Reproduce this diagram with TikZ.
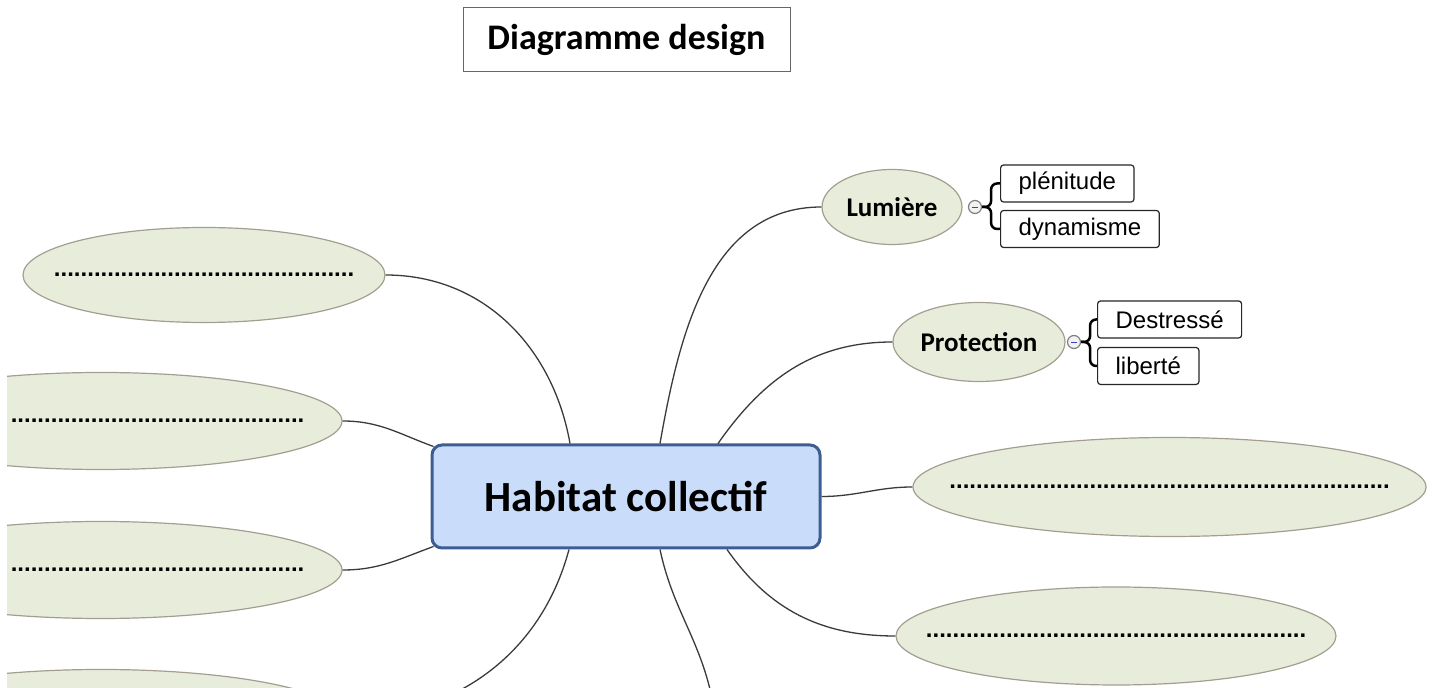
\documentclass[tikz,border=0pt]{standalone}
\usepackage{fontspec}
\setmainfont{Carlito}
\newfontfamily\leaffont{Liberation Sans}
\usepackage{tikz}
\usetikzlibrary{shapes.geometric}
\definecolor{ideafill}{HTML}{E8EDDB}
\definecolor{ideadraw}{HTML}{A39E90}
\definecolor{habfill}{HTML}{C9DCFA}
\definecolor{habdraw}{HTML}{3E5D93}
\definecolor{linkgray}{HTML}{3A3A3A}
% ligne de points, sans largeur (l'ellipse garde sa taille)
\newcommand{\DotRow}[2][0pt]{\makebox[0pt]{\hspace*{#1}\raisebox{-4pt}{\foreach \n in {1,...,#2}{.}}}}

\begin{document}
\begin{tikzpicture}[x=1pt,y=1pt]
		\tikzstyle{HabStyle}=[rectangle,rounded corners=10pt,draw=habdraw,line width=3pt,fill=habfill,
			minimum width=388,minimum height=103,font=\bfseries\fontsize{43}{48}\selectfont]
		\tikzstyle{IdeaStyle}=[ellipse,draw=ideadraw,line width=1.2pt,fill=ideafill,inner sep=0pt,
			font=\leaffont\bfseries\fontsize{24}{28}\selectfont]
		\tikzstyle{TopicStyle}=[IdeaStyle,font=\bfseries\fontsize{27}{30}\selectfont]
		\tikzstyle{LeafStyle}=[draw=black!85,line width=1.2pt,rounded corners=3pt,fill=white,anchor=west,
			inner xsep=18pt,inner ysep=0pt,minimum height=37,font=\leaffont\fontsize{24}{28}\selectfont]
		\tikzstyle{MinusStyle}=[circle,draw=gray,line width=1.2pt,fill=gray!10,minimum size=13,inner sep=0pt]
		\tikzstyle{BraceStyle}=[line width=2.5pt,rounded corners=6pt]
		\tikzstyle{LinkStyle}=[draw=linkgray,line width=1.3pt]
		\useasboundingbox (0,0) rectangle (1436,688);
		\clip (7,0) rectangle (1436,688);
		% titre
		\node[draw=gray!80!black,line width=1pt,minimum width=327,minimum height=64,
			font=\bfseries\fontsize{36}{40}\selectfont] (title) at (626.5,648) {Diagramme design};
		\node[HabStyle] (hab) at (626,191.5) {Habitat collectif};
		% branches gauche
		\node[IdeaStyle,minimum width=362,minimum height=95] (l1) at (204,413) {\DotRow{45}};
		\node[IdeaStyle,minimum width=482,minimum height=97] (l2) at (101,267) {\DotRow[113pt]{44}};
		\node[IdeaStyle,minimum width=482,minimum height=97] (l3) at (101,118) {\DotRow[113pt]{44}};
		\node[IdeaStyle,minimum width=482,minimum height=97] (l4) at (101,-30) {};
		% branches droite
		\node[TopicStyle,minimum width=140,minimum height=75] (lum) at (892,481) {Lumière};
		\node[TopicStyle,minimum width=172,minimum height=79] (pro) at (979,346) {Protection};
		\node[IdeaStyle,minimum width=513,minimum height=99] (r1) at (1169.5,201) {\DotRow{66}};
		\node[IdeaStyle,minimum width=440,minimum height=98] (r2) at (1116,52) {\DotRow{57}};
		\coordinate (bot) at (712,-10);
		% sous-branches
		\node[MinusStyle] (m1) at (975,481) {};
		\node[MinusStyle] (m2) at (1074,346) {};
		\draw[blue!50!gray] ([xshift=-3]m1.center) -- ([xshift=3]m1.center);
		\draw[blue!50!gray] ([xshift=-3]m2.center) -- ([xshift=3]m2.center);
		\node[LeafStyle] (ple) at (1000,504.5) {plénitude};
		\node[LeafStyle] (dyn) at (1000,459) {dynamisme};
		\node[LeafStyle] (des) at (1097,368.5) {Destressé};
		\node[LeafStyle] (lib) at (1097,322) {liberté};
		\coordinate (k1) at ([xshift=9]m1.east);
		\coordinate (k2) at ([xshift=9]m2.east);
		\draw[BraceStyle] (ple.west) -| (k1) -- (m1.east);
		\draw[BraceStyle] (dyn.west) -| (k1) -- (m1.east);
		\draw[BraceStyle] (des.west) -| (k2) -- (m2.east);
		\draw[BraceStyle] (lib.west) -| (k2) -- (m2.east);
		% liens
		\draw[LinkStyle] (l1.east) to[out=0,in=100] ([xshift=-56]hab.north);
		\draw[LinkStyle] (l2.east) to[out=0,in=160] ([xshift=3,yshift=-3]hab.north west);
		\draw[LinkStyle] (l3.east) to[out=0,in=200] ([xshift=3,yshift=3]hab.south west);
		\draw[LinkStyle] ([xshift=-57]hab.south) to[out=-105,in=0] (l4.east);
		\draw[LinkStyle] ([xshift=34]hab.south) to[out=-78,in=102] (bot);
		\draw[LinkStyle] (lum.west) to[out=180,in=80] ([xshift=34]hab.north);
		\draw[LinkStyle] (pro.west) to[out=180,in=55] ([xshift=92]hab.north);
		\draw[LinkStyle] (hab.east) to[out=0,in=180] (r1.west);
		\draw[LinkStyle] (r2.west) to[out=180,in=-55] ([xshift=101]hab.south);
	\end{tikzpicture}
\end{document}
